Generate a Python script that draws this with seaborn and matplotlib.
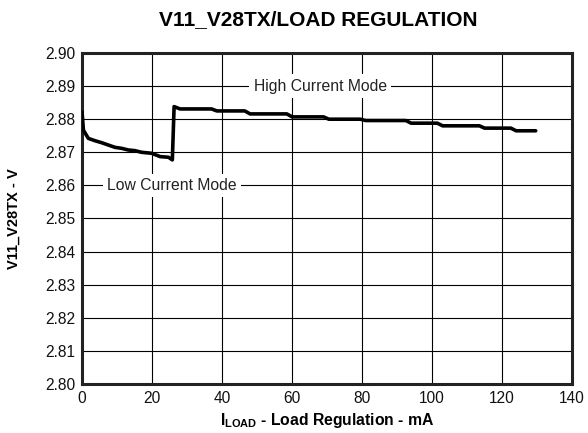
import numpy as np
import pandas as pd
import matplotlib
matplotlib.use("Agg")
import matplotlib.pyplot as plt
import seaborn as sns

# load current (mA) and output voltage (V)
i_load = [0, 0.4, 1.8, 3.7, 5.6, 7.5, 9.4, 11.3, 13.2, 15.1, 17, 19.9, 22.3, 24.7,
          25.8, 26.3, 28, 37, 38.5, 46.5, 48, 58.5, 60, 69, 70.5, 79.5, 81, 92.5,
          94, 101.5, 103, 113.5, 115, 122.5, 124, 129.6]
v_out = [2.8822, 2.8767, 2.8742, 2.8735, 2.8729, 2.8722, 2.8715, 2.8712, 2.8707,
         2.8705, 2.8700, 2.8697, 2.8687, 2.8685, 2.8677, 2.8838, 2.8831, 2.8831,
         2.8825, 2.8825, 2.8816, 2.8816, 2.8807, 2.8807, 2.8800, 2.8800, 2.8796,
         2.8796, 2.8788, 2.8788, 2.8780, 2.8780, 2.8773, 2.8773, 2.8765, 2.8765]

x_ticks = [0, 20, 40, 60, 80, 100, 120, 140]
y_ticks = [2.80, 2.81, 2.82, 2.83, 2.84, 2.85, 2.86, 2.87, 2.88, 2.89, 2.90]

# mode labels: text, x, y
mode_labels = [("High Current Mode", 68, 2.89), ("Low Current Mode", 25.6, 2.86)]

sns.set_theme(style="white")
plt.rcParams["font.family"] = ["Liberation Sans", "DejaVu Sans"]
plt.rcParams["text.color"] = "black"
plt.rcParams["axes.labelcolor"] = "black"
plt.rcParams["mathtext.fontset"] = "custom"
plt.rcParams["mathtext.rm"] = "Liberation Sans"
plt.rcParams["mathtext.bf"] = "Liberation Sans:bold"

df = pd.DataFrame({"i_load": i_load, "v_out": v_out})

fig = plt.figure(figsize=(5.88, 4.33), dpi=100)
ax = fig.add_axes([0.1395, 0.1132, 0.8335, 0.7644])

sns.lineplot(data=df, x="i_load", y="v_out", ax=ax, color="black",
             linewidth=2.6, sort=False, estimator=None, zorder=3)

ax.set_xlim(0, 140)
ax.set_ylim(2.80, 2.90)
ax.set_xticks(x_ticks)
ax.set_yticks(y_ticks)
ax.set_yticklabels([f"{v:.2f}" for v in y_ticks])
ax.grid(True, color="black", linewidth=0.8)
ax.tick_params(axis="both", length=0, labelsize=11.2, colors="#111111", pad=5)

for side in ax.spines.values():
    side.set_color("#222222")
    side.set_linewidth(2.2)
    side.set_visible(True)

for txt, xx, yy in mode_labels:
    ax.text(xx, yy, txt, ha="center", va="center", fontsize=11.3, color="#222222",
            bbox=dict(facecolor="white", edgecolor="none", pad=3), zorder=2)

ax.set_xlabel(r"$\mathbf{I_{LOAD}}$ - Load Regulation - mA", fontsize=11.3,
              fontweight="bold", labelpad=4)
ax.set_ylabel("V11_V28TX - V", fontsize=10.5, fontweight="bold")
ax.yaxis.set_label_coords(-0.125, 0.5)
fig.text(0.541, 0.955, "V11_V28TX/LOAD REGULATION", ha="center", va="center",
         fontsize=15, fontweight="bold", color="black")

fig.savefig("out.png", dpi=100)
